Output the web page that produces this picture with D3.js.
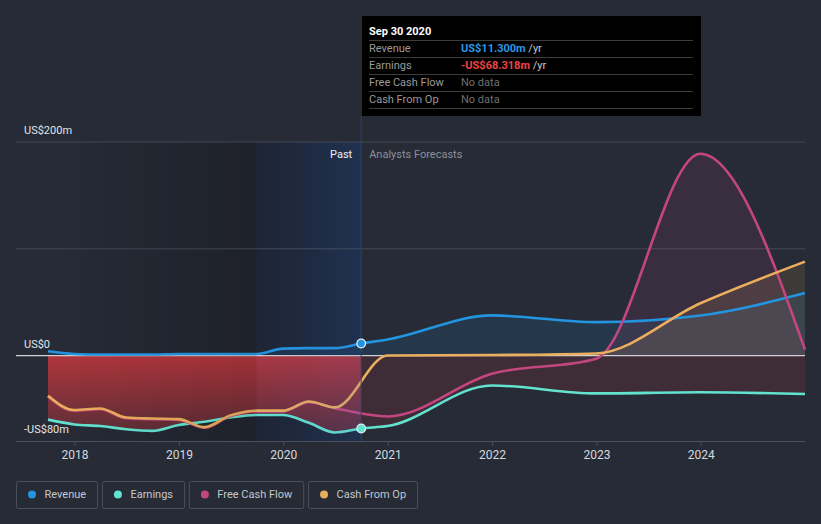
<!DOCTYPE html>
<html><head><meta charset="utf-8">
<script src="https://cdn.jsdelivr.net/npm/d3@7"></script>
<style>
html,body{margin:0;padding:0;background:#262b36;}
svg{display:block;font-family:Roboto,"Noto Sans",sans-serif;}
</style></head><body>
<svg id="chart" width="821" height="524"></svg>
<script>
// ---------- DATA ----------
const pastDates = ["2017-09-30","2017-12-31","2018-03-31","2018-06-30","2018-09-30","2018-12-31","2019-03-31","2019-06-30","2019-09-30","2019-12-31","2020-03-31","2020-06-30","2020-09-30"];
const forecastDates = ["2020-12-31","2021-12-31","2022-12-31","2023-12-31","2024-12-31"];
const revenuePast = [4, 1.5, 1, 1, 1, 1.5, 1.5, 1.5, 1.5, 6.5, 7, 7, 11.3];
const revenueForecast = [15, 37.6, 31.3, 37.5, 58.5];
const earningsPast = [-60, -64.5, -66, -69, -70.5, -65, -62, -58, -55.7, -55.7, -63, -72, -68.3];
const earningsForecast = [-66, -28, -35.4, -34.4, -36];
const fcfPast = [-38.3, -51.7, -50.2, -58.7, -59.7, -60.2, -67.7, -56.7, -52.3, -52.3, -43.7, -49.2, null];
const fcfForecast = [-57, -17, -3, 189, 5.6];
const cfoPast = [-37.6, -51, -49.5, -58, -59, -59.5, -67, -56, -51.6, -51.6, -43, -48.5, null];
const cfoForecast = [0, 0.5, 2, 49, 88];
const seriesNames = ["Revenue", "Earnings", "Free Cash Flow", "Cash From Op"];
const seriesColors = ["#2394df", "#63e2cf", "#c44680", "#eaae5c"];
const yTickValues = [200, 0, -80];
const yTickLabels = ["US$200m", "US$0", "-US$80m"];
const gridValues = [200, 100];
const xTickYears = [2018, 2019, 2020, 2021, 2022, 2023, 2024];
const pastEndDate = "2020-09-30";
const pastShadeStart = "2019-09-30";
const tooltipTitle = "Sep 30 2020";
const tooltipValues = ["US$11.300m", "-US$68.318m", "No data", "No data"];
const tooltipValueColors = ["#2a97e6", "#ef4444", "#6f6f6f", "#6f6f6f"];
const tooltipSuffix = [" /yr", " /yr", "", ""];

// ---------- SETUP ----------
const parse = d3.timeParse("%Y-%m-%d");
const svg = d3.select("#chart");
const x = d3.scaleTime().domain([parse("2017-09-30"), parse("2024-12-31")]).range([48, 805]);
const y = d3.scaleLinear().domain([-80, 200]).range([441, 142]);
const left = 16, right = 805;

const allDates = pastDates.concat(forecastDates).map(parse);
function build(past, fc) {
  return past.concat(fc).map((v, i) => ({ d: allDates[i], v: v })).filter(p => p.v !== null);
}
const series = [
  build(revenuePast, revenueForecast),
  build(earningsPast, earningsForecast),
  build(fcfPast, fcfForecast),
  build(cfoPast, cfoForecast)
];

const defs = svg.append("defs");
const xPast = x(parse(pastEndDate));
const xShade = x(parse(pastShadeStart));
const y0 = y(0);

defs.append("clipPath").attr("id", "pos").append("rect").attr("x", 0).attr("y", 0).attr("width", 821).attr("height", y0);
defs.append("clipPath").attr("id", "negPast").append("rect").attr("x", 0).attr("y", y0).attr("width", xPast).attr("height", 200);
defs.append("clipPath").attr("id", "negFc").append("rect").attr("x", xPast).attr("y", y0).attr("width", 821 - xPast).attr("height", 200);

function lg(id, x1, y1, x2, y2, stops) {
  const g = defs.append("linearGradient").attr("id", id).attr("gradientUnits", "userSpaceOnUse")
    .attr("x1", x1).attr("y1", y1).attr("x2", x2).attr("y2", y2);
  stops.forEach(s => g.append("stop").attr("offset", s[0]).attr("stop-color", s[1]).attr("stop-opacity", s[2]));
}
lg("redGrad", 0, y0, 0, y(-80), [[0, "rgb(195,55,62)", 0.88], [1, "rgb(195,55,62)", 0.3]]);
lg("darkUnder", 48, 0, xShade, 0, [[0, "#000", 0.0], [1, "#000", 0.16]]);
lg("blueUnder", xShade, 0, xPast, 0, [[0, "rgb(5,12,24)", 0.3], [1, "rgb(8,36,78)", 0.42]]);
lg("darkOver", 48, 0, xShade, 0, [[0, "#000", 0.0], [1, "#000", 0.08]]);
lg("blueOver", xShade, 0, xPast, 0, [[0, "rgb(70,105,190)", 0.05], [1, "rgb(70,105,190)", 0.13]]);

// under-layer shading
svg.append("rect").attr("x", 48).attr("y", y(200)).attr("width", xShade - 48).attr("height", y(-80) - y(200)).attr("fill", "url(#darkUnder)");
svg.append("rect").attr("x", xShade).attr("y", y(200)).attr("width", xPast - xShade).attr("height", y(-80) - y(200)).attr("fill", "url(#blueUnder)");

// grid
svg.selectAll(".grid").data(gridValues).join("line")
  .attr("x1", left).attr("x2", right).attr("y1", d => y(d)).attr("y2", d => y(d))
  .attr("stroke", "#434955").attr("stroke-width", 1);

// areas
const area = d3.area().x(d => x(d.d)).y0(y0).y1(d => y(d.v)).curve(d3.curveMonotoneX);
const line = d3.line().x(d => x(d.d)).y(d => y(d.v)).curve(d3.curveMonotoneX);

[0, 2, 3].forEach(i => {
  svg.append("path").attr("d", area(series[i])).attr("fill", seriesColors[i]).attr("fill-opacity", 0.12).attr("clip-path", "url(#pos)");
});
svg.append("path").attr("d", area(series[1])).attr("fill", "url(#redGrad)").attr("clip-path", "url(#negPast)");
svg.append("path").attr("d", area(series[1])).attr("fill", "rgb(200,60,70)").attr("fill-opacity", 0.15).attr("clip-path", "url(#negFc)");

// zero line & bottom axis
svg.append("line").attr("x1", left).attr("x2", right).attr("y1", y0).attr("y2", y0).attr("stroke", "#cfcfd4").attr("stroke-width", 1.2);
svg.append("line").attr("x1", left).attr("x2", right).attr("y1", y(-80) + 0.5).attr("y2", y(-80) + 0.5).attr("stroke", "#4a505c").attr("stroke-width", 1);

// lines
series.forEach((s, i) => {
  svg.append("path").attr("d", line(s)).attr("fill", "none").attr("stroke", seriesColors[i]).attr("stroke-width", 2.6).attr("stroke-linejoin", "round");
});

// over-layer shading
svg.append("rect").attr("x", 48).attr("y", y(200)).attr("width", xShade - 48).attr("height", y(-80) - y(200)).attr("fill", "url(#darkOver)");
svg.append("rect").attr("x", xShade).attr("y", y(200)).attr("width", xPast - xShade).attr("height", y(-80) - y(200)).attr("fill", "url(#blueOver)");

// tooltip vertical line
svg.append("line").attr("x1", xPast).attr("x2", xPast).attr("y1", 116).attr("y2", y(-80)).attr("stroke", "#27466e").attr("stroke-width", 1);

// markers
[[0, revenuePast], [1, earningsPast]].forEach(([i, arr]) => {
  svg.append("circle").attr("cx", xPast).attr("cy", y(arr[arr.length - 1])).attr("r", 4.3)
    .attr("fill", seriesColors[i]).attr("stroke", "#e8f0f8").attr("stroke-width", 1.3);
});

// x axis
const xAxis = d3.axisBottom(x).tickValues(xTickYears.map(yr => new Date(yr, 0, 1)))
  .tickFormat(d3.timeFormat("%Y")).tickSize(4).tickPadding(5);
const gx = svg.append("g").attr("transform", `translate(0,${y(-80) + 0.5})`).call(xAxis);
gx.select(".domain").remove();
gx.selectAll(".tick line").attr("stroke", "#4a505c");
gx.selectAll(".tick text").attr("fill", "#d6d9de").attr("font-size", 12).attr("font-family", "Roboto");

// y labels
svg.selectAll(".ylab").data(yTickValues).join("text")
  .attr("x", 24).attr("y", d => y(d) - 8).attr("fill", "#e2e4e8").attr("font-size", 11)
  .text((d, i) => yTickLabels[i]);

// Past / Analysts Forecasts
svg.append("text").attr("x", xPast - 9).attr("y", 157.5).attr("text-anchor", "end").attr("fill", "#eef0f3").attr("font-size", 11).text("Past");
svg.append("text").attr("x", xPast + 8).attr("y", 157.5).attr("fill", "#8c9099").attr("font-size", 11).text("Analysts Forecasts");

// tooltip
const tt = svg.append("g");
tt.append("rect").attr("x", 362).attr("y", 16).attr("width", 339).attr("height", 100).attr("fill", "#000");
tt.append("text").attr("x", 369).attr("y", 34.5).attr("fill", "#fff").attr("font-size", 11).attr("font-weight", "bold").text(tooltipTitle);
[40.5, 57.5, 74.5, 91.5, 108.5].forEach(yy => {
  tt.append("line").attr("x1", 369).attr("x2", 693).attr("y1", yy).attr("y2", yy).attr("stroke", "#3c3c3c").attr("stroke-width", 1);
});
seriesNames.forEach((n, i) => {
  const by = 52 + i * 17;
  tt.append("text").attr("x", 369).attr("y", by).attr("fill", "#9a9a9a").attr("font-size", 11).text(n);
  const t = tt.append("text").attr("x", 461).attr("y", by).attr("font-size", 11);
  t.append("tspan").attr("fill", tooltipValueColors[i]).attr("font-weight", tooltipSuffix[i] ? "bold" : "normal").text(tooltipValues[i]);
  if (tooltipSuffix[i]) t.append("tspan").attr("fill", "#c8c8c8").text(tooltipSuffix[i]);
});

// legend
let lx = 16.5;
seriesNames.forEach((n, i) => {
  const g = svg.append("g");
  const txt = g.append("text").attr("x", lx + 28).attr("y", 498).attr("fill", "#c4c8ce").attr("font-size", 11).text(n);
  const w = 28 + txt.node().getComputedTextLength() + 11.5;
  g.insert("rect", "text").attr("x", lx).attr("y", 481.5).attr("width", w).attr("height", 27).attr("rx", 2)
    .attr("fill", "none").attr("stroke", "#4a505c").attr("stroke-width", 1);
  g.append("circle").attr("cx", lx + 15.5).attr("cy", 494.5).attr("r", 4).attr("fill", seriesColors[i]);
  lx += w + 4.8;
});
</script>
</body></html>
